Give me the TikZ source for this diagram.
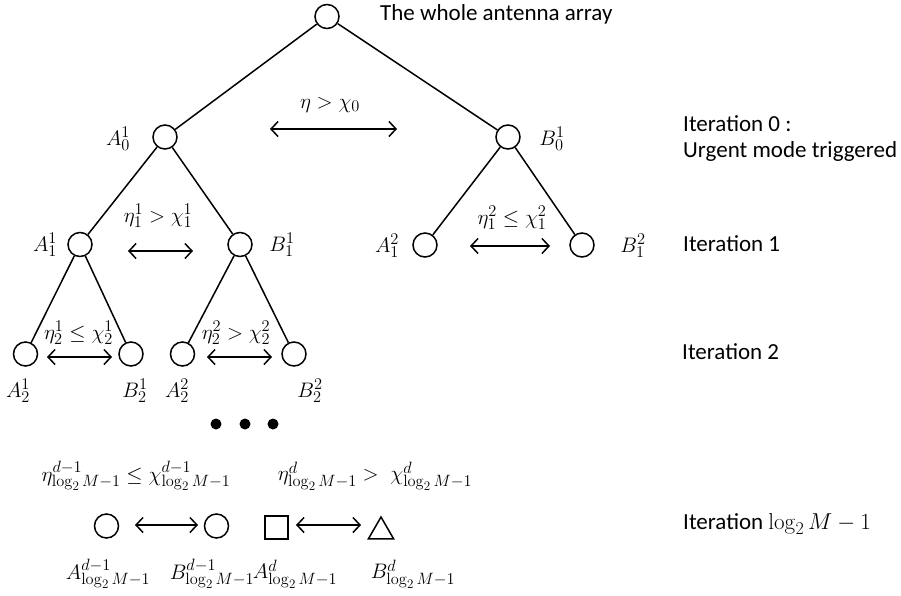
\RequirePackage{fix-cm}
\documentclass[tikz,border=0pt]{standalone}
\usepackage[no-math]{fontspec}
\setmainfont{Carlito}
\usetikzlibrary{arrows.meta,shapes.geometric}
\renewcommand\defaultscriptratio{.78}
\renewcommand\defaultscriptscriptratio{.62}
\tikzset{
  ant/.style={circle,draw,line width=1.5pt,minimum size=24pt,inner sep=0pt},
  branch/.style={line width=1.5pt},
  swap/.style={line width=1.5pt,{Straight Barb[length=7pt,width=15pt]}-{Straight Barb[length=7pt,width=15pt]}},
  itlabel/.style={anchor=west,inner sep=0pt,font=\fontsize{23}{27}\selectfont},
  mlabel/.style={inner sep=1pt,font=\fontsize{21}{25}\selectfont},
}
\begin{document}
\fontsize{21}{25}\selectfont
\begin{tikzpicture}[x=1pt,y=-1pt,every node/.style={mlabel}]
  \useasboundingbox (0,0) rectangle (901,595);
  % root and first split
  \node[ant] (root) at (327,16.5) {};
  \node[itlabel] (whole) at (380,14) {The whole antenna array};
  \node[ant] (a01) at (165,137) {};
  \node[ant] (b01) at (508,137) {};
  \node (la01) at (118,139) {$A_0^1$};
  \node (lb01) at (552,139) {$B_0^1$};
  \draw[branch] (root) -- (a01);
  \draw[branch] (root) -- (b01);
  \node (c0) at (330,105) {$\eta > \chi_0$};
  \coordinate (c0l) at (270,129);
  \coordinate (c0r) at (397,129);
  \draw[swap] (c0l) -- (c0r);
  % iteration 1
  \node[ant] (a11) at (80,244.5) {};
  \node[ant] (b11) at (240,244.5) {};
  \node[ant] (a12) at (425,245) {};
  \node[ant] (b12) at (582,245) {};
  \node (la11) at (45,245) {$A_1^1$};
  \node (lb11) at (282,245) {$B_1^1$};
  \node (la12) at (387,246) {$A_1^2$};
  \node (lb12) at (633,246) {$B_1^2$};
  \draw[branch] (a01) -- (a11);
  \draw[branch] (a01) -- (b11);
  \draw[branch] (b01) -- (a12);
  \draw[branch] (b01) -- (b12);
  \node (c11) at (158,216) {$\eta_1^1 > \chi_1^1$};
  \coordinate (c11l) at (128,251);
  \coordinate (c11r) at (193,251);
  \draw[swap] (c11l) -- (c11r);
  \node (c12) at (512,218) {$\eta_1^2 \le \chi_1^2$};
  \coordinate (c12l) at (470,246);
  \coordinate (c12r) at (550,246);
  \draw[swap] (c12l) -- (c12r);
  % iteration 2
  \node[ant] (a21) at (25.5,354) {};
  \node[ant] (b21) at (131,354) {};
  \node[ant] (a22) at (182.5,354) {};
  \node[ant] (b22) at (294,354) {};
  \node (la21) at (18,391) {$A_2^1$};
  \node (lb21) at (135,391) {$B_2^1$};
  \node (la22) at (177,391) {$A_2^2$};
  \node (lb22) at (310,391) {$B_2^2$};
  \draw[branch] (a11) -- (a21);
  \draw[branch] (a11) -- (b21);
  \draw[branch] (b11) -- (a22);
  \draw[branch] (b11) -- (b22);
  \node (c21) at (78.5,333) {$\eta_2^1 \le \chi_2^1$};
  \coordinate (c21l) at (47,357);
  \coordinate (c21r) at (112,357);
  \draw[swap] (c21l) -- (c21r);
  \node (c22) at (236,333) {$\eta_2^2 > \chi_2^2$};
  \coordinate (c22l) at (207,357);
  \coordinate (c22r) at (272,357);
  \draw[swap] (c22l) -- (c22r);
  % dots
  \foreach \dx [count=\i] in {216,245,273}
    \fill (\dx,424) circle (5.5);
  % last iteration
  \node (cd1) at (136,476) {$\eta^{d-1}_{\log_2 M-1} \le \chi^{d-1}_{\log_2 M-1}$};
  \node (cd) at (375,476) {$\eta^{d}_{\log_2 M-1} >\; \chi^{d}_{\log_2 M-1}$};
  \node[ant] (ad1) at (106.5,526) {};
  \node[ant] (bd1) at (216.5,526) {};
  \node[draw,line width=1.5pt,minimum size=23pt,inner sep=0pt] (ad) at (276.5,527.5) {};
  \node[draw,line width=1.5pt,regular polygon,regular polygon sides=3,minimum size=29pt,inner sep=0pt] (bd) at (381,531.5) {};
  \coordinate (sw1l) at (135,525);
  \coordinate (sw1r) at (198,525);
  \coordinate (sw2l) at (296,525);
  \coordinate (sw2r) at (361,525);
  \draw[swap] (sw1l) -- (sw1r);
  \draw[swap] (sw2l) -- (sw2r);
  \node (lad1) at (108,574) {$A^{d-1}_{\log_2 M-1}$};
  \node (lbd1) at (212,574) {$B^{d-1}_{\log_2 M-1}$};
  \node (lad) at (295,574) {$A^{d}_{\log_2 M-1}$};
  \node (lbd) at (413,574) {$B^{d}_{\log_2 M-1}$};
  % iteration labels
  \node[itlabel] (it0) at (683,124) {Iteration 0 :};
  \node[itlabel] (urg) at (683,151) {Urgent mode triggered};
  \node[itlabel] (it1) at (683,244) {Iteration 1};
  \node[itlabel] (it2) at (682,352) {Iteration 2};
  \node[itlabel] (itd) at (683,524) {Iteration $\log_2 M-1$};
\end{tikzpicture}
\end{document}
